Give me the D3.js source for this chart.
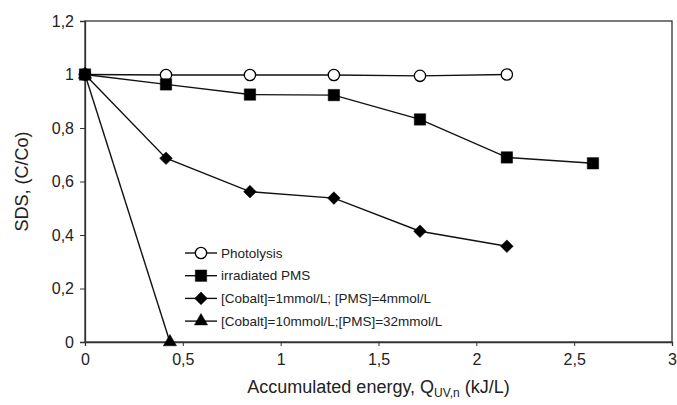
<!DOCTYPE html>
<html>
<head>
<meta charset="utf-8">
<script src="https://cdn.jsdelivr.net/npm/d3@7"></script>
<style>
body { margin: 0; background: #fff; }
text { font-family: "Liberation Sans", Arial, sans-serif; fill: #222; }
</style>
</head>
<body>
<script>
// data
var seriesNames = ['Photolysis', 'irradiated PMS', '[Cobalt]=1mmol/L; [PMS]=4mmol/L', '[Cobalt]=10mmol/L;[PMS]=32mmol/L'];
var photoX = [0, 0.414, 0.843, 1.272, 1.712, 2.156];
var photoY = [1, 0.998, 0.998, 0.998, 0.995, 1.0];
var pmsX = [0, 0.414, 0.843, 1.272, 1.712, 2.156, 2.596];
var pmsY = [1, 0.963, 0.925, 0.923, 0.832, 0.69, 0.668];
var co1X = [0, 0.414, 0.843, 1.272, 1.712, 2.156];
var co1Y = [1, 0.687, 0.562, 0.538, 0.414, 0.358];
var co10X = [0, 0.434];
var co10Y = [1, 0];
var xTicks = [0, 0.5, 1, 1.5, 2, 2.5, 3];
var yTicks = [0, 0.2, 0.4, 0.6, 0.8, 1, 1.2];
var markers = ['circle', 'square', 'diamond', 'triangle'];

var width = 677, height = 405;
var mLeft = 85, mRight = 672, mTop = 21, mBottom = 342;

var svg = d3.select("body").append("svg")
	.attr("width", width)
	.attr("height", height);

var x = d3.scaleLinear().domain([0, 3]).range([mLeft, mRight]);
var y = d3.scaleLinear().domain([0, 1.2]).range([mBottom, mTop]);

var fmt = function(d) { return String(d).replace('.', ','); };

// frame
svg.append("rect")
	.attr("x", mLeft).attr("y", mTop)
	.attr("width", mRight - mLeft).attr("height", mBottom - mTop)
	.attr("fill", "none").attr("stroke", "#333").attr("stroke-width", 1.3);

var yAxis = svg.append("g")
	.attr("transform", "translate(" + mLeft + ",0)")
	.call(d3.axisLeft(y).tickValues(yTicks).tickFormat(fmt).tickSize(5).tickPadding(6));
var xAxis = svg.append("g")
	.attr("transform", "translate(0," + mBottom + ")")
	.call(d3.axisBottom(x).tickValues(xTicks).tickFormat(fmt).tickSize(4).tickPadding(8));

[xAxis, yAxis].forEach(function(a) {
	a.select(".domain").attr("stroke", "#333").attr("stroke-width", 1.3);
	a.selectAll(".tick line").attr("stroke", "#333");
	a.selectAll("text").attr("font-size", 16).attr("font-family", "Liberation Sans, Arial, sans-serif").attr("fill", "#222");
});

// axis titles
svg.append("text")
	.attr("transform", "translate(28," + ((mTop + mBottom) / 2) + ") rotate(-90)")
	.attr("text-anchor", "middle")
	.attr("font-size", 18)
	.text("SDS, (C/Co)");

var xt = svg.append("text")
	.attr("x", (mLeft + mRight) / 2)
	.attr("y", 393)
	.attr("text-anchor", "middle")
	.attr("font-size", 18);
xt.append("tspan").text("Accumulated energy, Q");
xt.append("tspan").attr("font-size", 12).attr("dy", 4).text("UV,n");
xt.append("tspan").attr("dy", -4).text(" (kJ/L)");

function marker(sel, kind) {
	var size = kind == 'circle' ? 100 : kind == 'square' ? 130 : kind == 'diamond' ? 80 : 75;
	var sym = kind == 'circle' ? d3.symbolCircle : kind == 'triangle' ? d3.symbolTriangle : d3.symbolSquare;
	sel.attr("d", d3.symbol().type(sym).size(size))
		.attr("fill", kind == 'circle' ? "#fff" : "#000")
		.attr("stroke", "#000")
		.attr("stroke-width", kind == 'circle' ? 1.3 : 0.5);
}

var allSeries = [[photoX, photoY], [pmsX, pmsY], [co1X, co1Y], [co10X, co10Y]];
var line = d3.line().x(function(d) { return x(d[0]); }).y(function(d) { return y(d[1]); });

// order so the square ends up on top at the shared start point
var drawOrder = [3, 2, 0, 1];
drawOrder.forEach(function(s) {
	var pts = d3.zip(allSeries[s][0], allSeries[s][1]);
	svg.append("path").datum(pts)
		.attr("d", line)
		.attr("fill", "none").attr("stroke", "#111").attr("stroke-width", 1.4);
	var rot = markers[s] == 'diamond' ? " rotate(45)" : "";
	svg.append("g").selectAll("path")
		.data(pts).enter().append("path")
		.attr("transform", function(d) { return "translate(" + x(d[0]) + "," + y(d[1]) + ")" + rot; })
		.call(marker, markers[s]);
});

// legend
var leg = svg.append("g").selectAll("g")
	.data(seriesNames).enter().append("g")
	.attr("transform", function(d, i) { return "translate(185," + (253 + i * 22.7) + ")"; });
leg.append("line").attr("x1", 0).attr("x2", 32).attr("stroke", "#111").attr("stroke-width", 1.4);
leg.append("path")
	.attr("transform", function(d, i) { return "translate(16,0)" + (markers[i] == 'diamond' ? " rotate(45)" : ""); })
	.each(function(d, i) { d3.select(this).call(marker, markers[i]); });
leg.append("text").attr("x", 36).attr("dy", "0.35em").attr("font-size", 13.5).text(function(d) { return d; });
</script>
</body>
</html>
